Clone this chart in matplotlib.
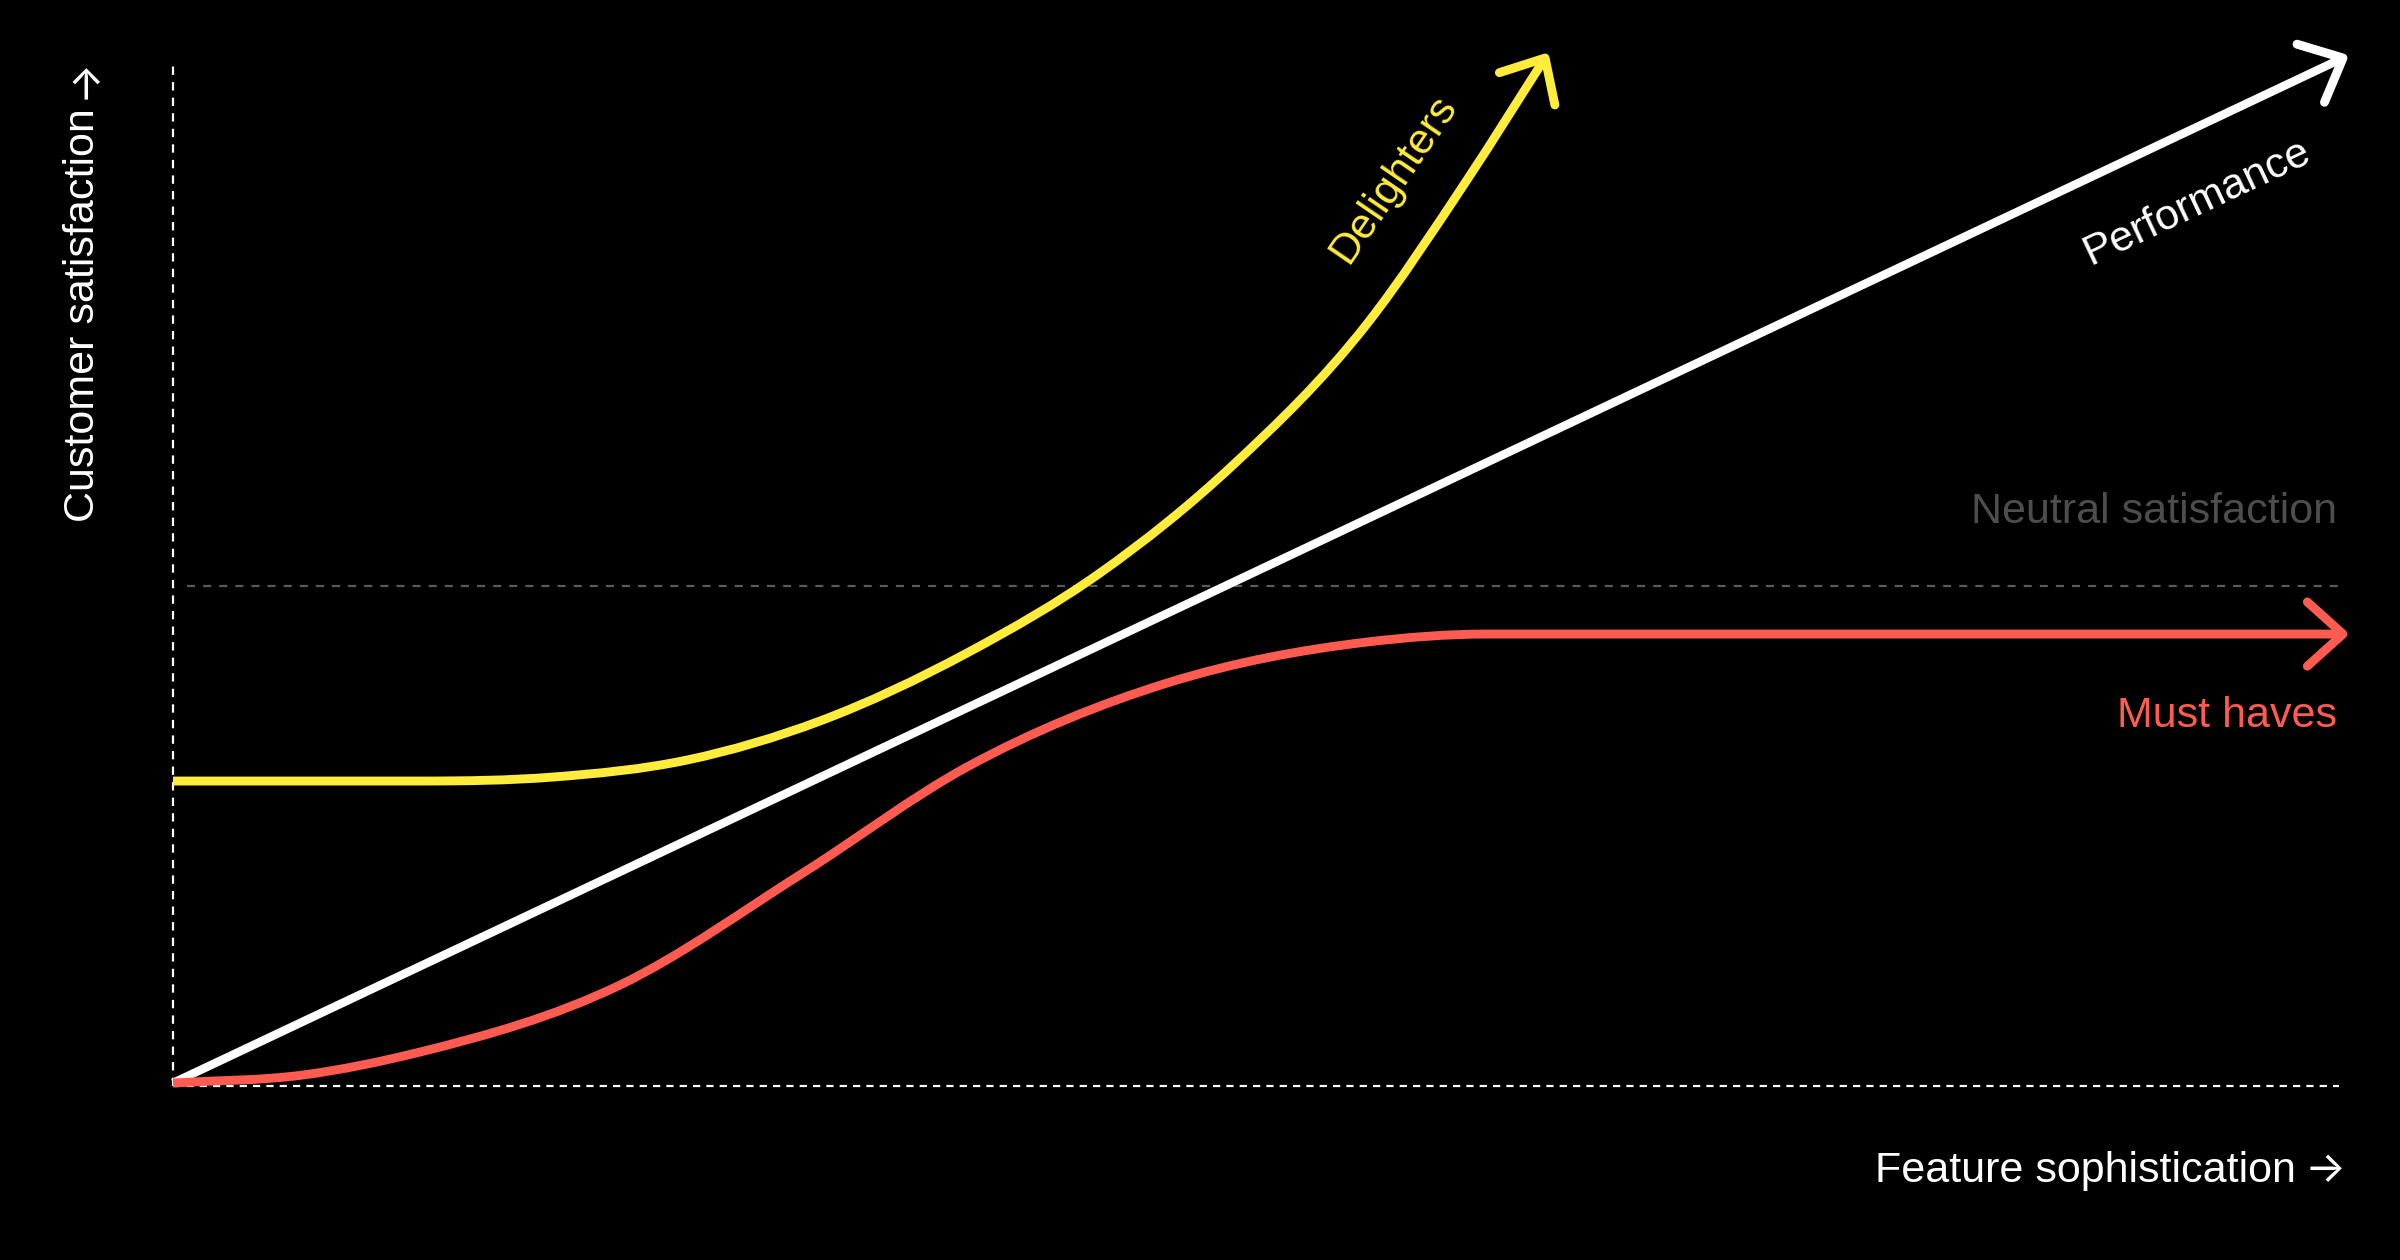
import numpy as np
import matplotlib
matplotlib.use("Agg")
import matplotlib.pyplot as plt
from matplotlib.path import Path
from matplotlib.patches import PathPatch

# ---------------- data ----------------
perf_x = [0, 100]
perf_y = [0, 100]

delight_x = [0, 11.38, 17.51, 23.69, 29.82, 36.59, 42.72, 48.85, 55.02, 59.63, 63.23]
delight_y = [29.46, 29.46, 29.85, 31.51, 35.32, 41.95, 49.76, 60.29, 74.05, 88.10, 100]

must_x = [0, 5.99, 11.38, 20.60, 29.03, 36.59, 45.81, 55.02, 60.55, 100]
must_y = [0, 0.78, 3.02, 9.56, 20.49, 30.83, 39.02, 43.02, 43.80, 43.80]

neutral_y = 48.5

labels = {
    "x": "Feature sophistication",
    "y": "Customer satisfaction",
    "arrow": "\u2192",
    "neutral": "Neutral satisfaction",
    "must": "Must haves",
    "perf": "Performance",
    "delight": "Delighters",
}

# ---------------- style ----------------
BG = "black"
WHITE = "#ffffff"
YELLOW = "#ffec3d"
RED = "#ff5b50"
GRAY_TXT = "#4d4d4d"
GRAY_DASH = "#5a5a5a"
FONT = ["Liberation Sans", "DejaVu Sans"]
ARROW_FONT = ["Inter", "DejaVu Sans"]
FS = 15.5
LW = 3.2

plt.rcParams["lines.scale_dashes"] = False

W, H, DPI = 2400, 1260, 200
fig = plt.figure(figsize=(W / DPI, H / DPI), dpi=DPI, facecolor=BG)
left, right = 173 / W, 2343 / W
bottom, top = (H - 1083) / H, (H - 58) / H
ax = fig.add_axes([left, bottom, right - left, top - bottom])
ax.set_facecolor(BG)
ax.set_xlim(0, 100)
ax.set_ylim(0, 100)
ax.axis("off")


def smooth_path(x, y):
    """Cubic Hermite path through the read points (three-point tangents,
    clamped so that flat stretches stay flat)."""
    x = np.asarray(x, float)
    y = np.asarray(y, float)
    n = len(x)
    h = np.diff(x)
    s = np.diff(y) / h
    m = np.zeros(n)
    m[0] = s[0]
    m[-1] = s[-1]
    for i in range(1, n - 1):
        if s[i - 1] * s[i] <= 0:
            m[i] = 0.0
        else:
            est = (s[i - 1] * h[i] + s[i] * h[i - 1]) / (h[i - 1] + h[i])
            lim = 3 * min(abs(s[i - 1]), abs(s[i]))
            m[i] = np.sign(est) * min(abs(est), lim)
    verts = [(x[0], y[0])]
    codes = [Path.MOVETO]
    for i in range(n - 1):
        verts += [(x[i] + h[i] / 3, y[i] + m[i] * h[i] / 3),
                  (x[i + 1] - h[i] / 3, y[i + 1] - m[i + 1] * h[i] / 3),
                  (x[i + 1], y[i + 1])]
        codes += [Path.CURVE4] * 3
    return Path(verts, codes), m[-1]


def chevron(tip, slope, color, length=48, ang=42):
    p0 = ax.transData.transform(tip)
    p1 = ax.transData.transform((tip[0] - 1.0, tip[1] - slope))
    d = (p0 - p1) / np.linalg.norm(p0 - p1)
    back = -d
    arms = []
    for a in (ang, -ang):
        r = np.deg2rad(a)
        v = np.array([back[0] * np.cos(r) - back[1] * np.sin(r),
                      back[0] * np.sin(r) + back[1] * np.cos(r)])
        arms.append(p0 + length * v)
    inv = ax.transData.inverted()
    pts = inv.transform(np.array([arms[0], p0, arms[1]]))
    ax.plot(pts[:, 0], pts[:, 1], color=color, lw=LW, solid_capstyle="round",
            solid_joinstyle="round", clip_on=False, zorder=6)


# guide lines
ax.plot([0, 0], [-0.3, 99.6], color=WHITE, lw=0.8, dashes=(3.0, 2.6), clip_on=False, zorder=1)
ax.plot([0, 99.8], [-0.3, -0.3], color=WHITE, lw=0.8, dashes=(2.6, 2.2), clip_on=False, zorder=1)
ax.plot([0.65, 99.8], [neutral_y, neutral_y], color=GRAY_DASH, lw=0.8, dashes=(2.9, 2.9),
        clip_on=False, zorder=1)

# Delighters
p, mend = smooth_path(delight_x, delight_y)
ax.add_patch(PathPatch(p, fill=False, edgecolor=YELLOW, lw=LW, capstyle="butt", clip_on=False, zorder=4))
chevron((delight_x[-1], delight_y[-1]), mend * 1.1, YELLOW)

# Performance
ax.plot(perf_x, perf_y, color=WHITE, lw=LW * 0.95, solid_capstyle="butt", clip_on=False, zorder=4)
chevron((perf_x[-1], perf_y[-1]), (perf_y[-1] - perf_y[0]) / (perf_x[-1] - perf_x[0]), WHITE)

# Must haves
p, mend = smooth_path(must_x, must_y)
ax.add_patch(PathPatch(p, fill=False, edgecolor=RED, lw=LW, capstyle="butt", clip_on=False, zorder=5))
chevron((must_x[-1], must_y[-1]), mend, RED)

# ---------------- text ----------------
def fx(px):
    return px / W


def fy(py):
    return 1 - py / H


fig.text(fx(83), fy(108), labels["y"], rotation=90, ha="center", va="top",
         color=WHITE, fontsize=FS, family=FONT)
fig.text(fx(84), fy(58), labels["arrow"], rotation=90, ha="center", va="top",
         color=WHITE, fontsize=FS, family=ARROW_FONT)
fig.text(fx(2296), fy(1182), labels["x"], ha="right", va="baseline",
         color=WHITE, fontsize=FS, family=FONT)
fig.text(fx(2346), fy(1182), labels["arrow"], ha="right", va="baseline",
         color=WHITE, fontsize=FS, family=ARROW_FONT)
fig.text(fx(2337), fy(523), labels["neutral"], ha="right", va="baseline",
         color=GRAY_TXT, fontsize=FS, family=FONT)
fig.text(fx(2337), fy(727), labels["must"], ha="right", va="baseline",
         color=RED, fontsize=FS, family=FONT)

inv = ax.transData.inverted()
perf_c = inv.transform(fig.transFigure.transform((fx(2197), fy(202))))
ax.text(perf_c[0], perf_c[1], labels["perf"], rotation=25.3, rotation_mode="anchor",
        ha="center", va="center", color=WHITE, fontsize=FS, family=FONT, clip_on=False)
del_c = inv.transform(fig.transFigure.transform((fx(1394), fy(179))))
ax.text(del_c[0], del_c[1], labels["delight"], rotation=55.6, rotation_mode="anchor",
        ha="center", va="center", color=YELLOW, fontsize=FS, family=FONT, clip_on=False)

fig.savefig("out.png", dpi=DPI, facecolor=BG)
